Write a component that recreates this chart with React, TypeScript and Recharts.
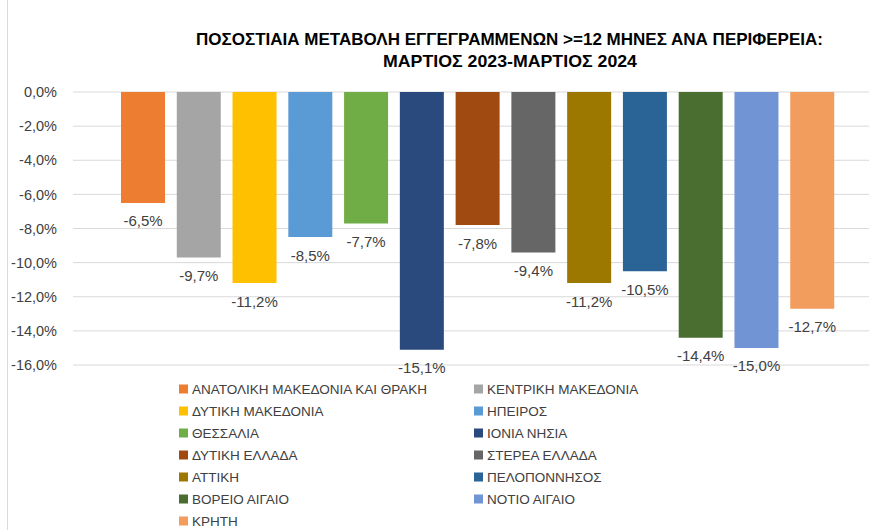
import { Bar, BarChart, CartesianGrid, Cell, LabelList, XAxis, YAxis } from "recharts";

// Ποσοστιαία μεταβολή εγγεγραμμένων >=12 μήνες ανά περιφέρεια (Μάρτιος 2023 - Μάρτιος 2024)

const regions = [
	"ΑΝΑΤΟΛΙΚΗ ΜΑΚΕΔΟΝΙΑ ΚΑΙ ΘΡΑΚΗ",
	"ΚΕΝΤΡΙΚΗ ΜΑΚΕΔΟΝΙΑ",
	"ΔΥΤΙΚΗ ΜΑΚΕΔΟΝΙΑ",
	"ΗΠΕΙΡΟΣ",
	"ΘΕΣΣΑΛΙΑ",
	"ΙΟΝΙΑ ΝΗΣΙΑ",
	"ΔΥΤΙΚΗ ΕΛΛΑΔΑ",
	"ΣΤΕΡΕΑ ΕΛΛΑΔΑ",
	"ΑΤΤΙΚΗ",
	"ΠΕΛΟΠΟΝΝΗΣΟΣ",
	"ΒΟΡΕΙΟ ΑΙΓΑΙΟ",
	"ΝΟΤΙΟ ΑΙΓΑΙΟ",
	"ΚΡΗΤΗ",
];

const changes = [-6.5, -9.7, -11.2, -8.5, -7.7, -15.1, -7.8, -9.4, -11.2, -10.5, -14.4, -15.0, -12.7];

const colors = [
	"#ED7D31",
	"#A5A5A5",
	"#FFC000",
	"#5B9BD5",
	"#70AD47",
	"#2A4A7E",
	"#A04A12",
	"#666666",
	"#9C7800",
	"#2A6496",
	"#4A6E30",
	"#7094D4",
	"#F29C5E",
];

const yTicks = [0, -2, -4, -6, -8, -10, -12, -14, -16];

const titleLines = [
	"ΠΟΣΟΣΤΙΑΙΑ ΜΕΤΑΒΟΛΗ ΕΓΓΕΓΡΑΜΜΕΝΩΝ >=12 ΜΗΝΕΣ ΑΝΑ ΠΕΡΙΦΕΡΕΙΑ:",
	"ΜΑΡΤΙΟΣ 2023-ΜΑΡΤΙΟΣ 2024",
];

const data = regions.map((name, i) => ({ name, value: changes[i] }));

const FONT = "'Liberation Sans', Arial, sans-serif";
const TEXT = "#404040";

const fmt = (v: number) => `${Number(v).toFixed(1).replace(".", ",")}%`;

function BelowLabel(props: any) {
	const box = props.viewBox ?? props;
	const { x, y, width, height } = box;
	const bottom = Math.max(y, y + height);
	return (
		<text
			x={x + width / 2}
			y={bottom + 23.5}
			textAnchor="middle"
			fontSize={15}
			fontFamily={FONT}
			fill={TEXT}
		>
			{fmt(props.value)}
		</text>
	);
}

function Legend2Col() {
	return (
		<svg width={869} height={160} style={{ position: "absolute", left: 0, top: 370 }}>
			{regions.map((name, i) => {
				const col = i % 2;
				const row = Math.floor(i / 2);
				const sx = col === 0 ? 179 : 474;
				const cy = 19 + row * 22;
				return (
					<g key={name}>
						<rect x={sx} y={cy - 4.5} width={9} height={9} fill={colors[i]} />
						<text x={sx + 13} y={cy + 5} fontSize={13.5} fontFamily={FONT} fill={TEXT}>
							{name}
						</text>
					</g>
				);
			})}
		</svg>
	);
}

export default function App() {
	return (
		<div
			style={{
				position: "absolute",
				left: 0,
				top: 0,
				width: 869,
				height: 530,
				overflow: "hidden",
				background: "#fff",
			}}
		>
			<div
				style={{
					position: "absolute",
					left: 7,
					top: 0,
					width: 1,
					height: 530,
					background: "#d9d9d9",
				}}
			/>
			<svg width={869} height={80} style={{ position: "absolute", left: 0, top: 0 }}>
				<text
					x={196}
					y={45}
					fontSize={17}
					fontWeight="bold"
					fontFamily={FONT}
					fill="#000"
					textLength={627}
					lengthAdjust="spacingAndGlyphs"
				>
					{titleLines[0]}
				</text>
				<text
					x={383}
					y={67}
					fontSize={17}
					fontWeight="bold"
					fontFamily={FONT}
					fill="#000"
					textLength={254}
					lengthAdjust="spacingAndGlyphs"
				>
					{titleLines[1]}
				</text>
			</svg>
			<div style={{ position: "absolute", left: 0, top: 0 }}>
				<BarChart
					width={869}
					height={380}
					data={data}
					margin={{ top: 92, right: 0, bottom: 15, left: 0 }}
				>
					<CartesianGrid vertical={false} stroke="#d9d9d9" />
					<XAxis dataKey="name" hide padding={{ left: 42, right: 29 }} />
					<YAxis
						width={73}
						domain={[-16, 0]}
						ticks={yTicks}
						interval={0}
						axisLine={false}
						tickLine={false}
						tickSize={0}
						tickMargin={16}
						tickFormatter={fmt}
						tick={{ fontSize: 14.5, fontFamily: FONT, fill: TEXT }}
					/>
					<Bar dataKey="value" barSize={44} isAnimationActive={false}>
						{data.map((d, i) => (
							<Cell key={d.name} fill={colors[i]} />
						))}
						<LabelList dataKey="value" content={BelowLabel} />
					</Bar>
				</BarChart>
			</div>
			<Legend2Col />
		</div>
	);
}
